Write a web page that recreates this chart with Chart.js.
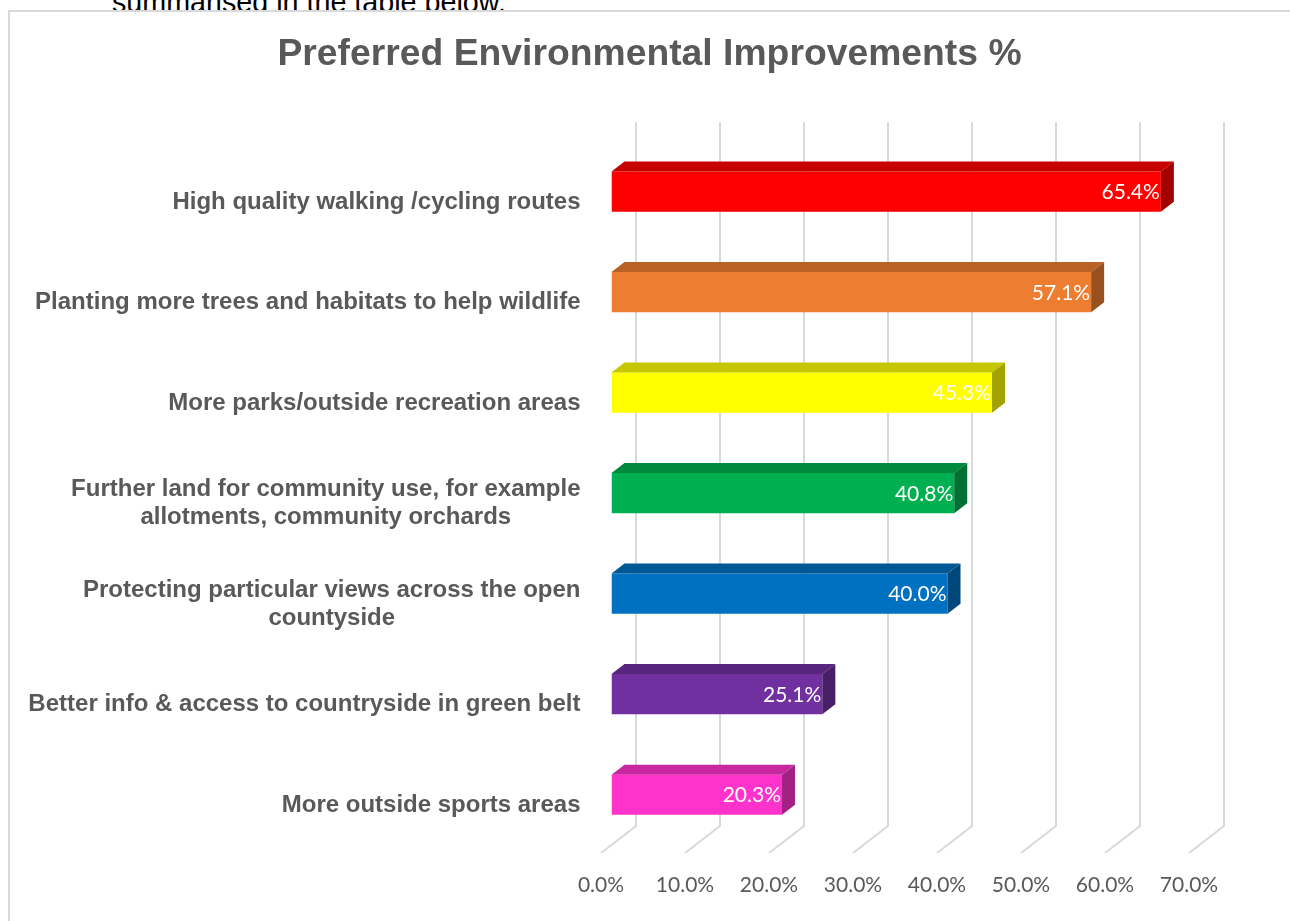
<!DOCTYPE html>
<html>
<head>
<meta charset="utf-8">
<script src="https://cdn.jsdelivr.net/npm/chart.js@4.4.1/dist/chart.umd.min.js"></script>
<style>
  html, body { margin: 0; padding: 0; background: #fff; overflow: hidden; }
  body { width: 1290px; height: 921px; position: relative; }
  #above {
    position: absolute; left: 112px; top: -12px;
    font: 28.7px "Liberation Sans", Arial, sans-serif; line-height: 1; color: #000;
    white-space: nowrap;
  }
  #frame {
    position: absolute; left: 8px; top: 10px; width: 1300px; height: 930px;
    border: 2px solid #d9d9d9; box-sizing: border-box; background: #fff;
  }
  #wrap { position: absolute; left: 8px; top: 10px; width: 1283px; height: 911px; }
</style>
</head>
<body>
<div id="above">summarised in the table below.</div>
<div id="frame"></div>
<div id="wrap"><canvas id="envChart"></canvas></div>
<script>
const categories = [
  ['High quality walking /cycling routes'],
  ['Planting more trees and habitats to help wildlife'],
  ['More parks/outside recreation areas'],
  ['Further land for community use, for example', 'allotments, community orchards'],
  ['Protecting particular views across the open', 'countyside'],
  ['Better info & access to countryside in green belt'],
  ['More outside sports areas'],
];
const values = [65.4, 57.1, 45.3, 40.8, 40.0, 25.1, 20.3];
const barColors = ['#FF0000', '#ED7D31', '#FFFF00', '#00B050', '#0070C0', '#7030A0', '#FF33CC'];
const axisMin = 0;
const axisMax = 70;
const axisStep = 10;

// depth of the 3D look
const barDX = 13, barDY = 10;
const wallDX = 24.5, wallDY = 19;
const floorDX = 10.5, floorDY = 8;
const numFont = 'Lato, "Open Sans", sans-serif';

function shade(hex, f) {
  const n = parseInt(hex.slice(1), 16);
  const r = Math.round(((n >> 16) & 255) * f);
  const g = Math.round(((n >> 8) & 255) * f);
  const b = Math.round((n & 255) * f);
  return `rgb(${r},${g},${b})`;
}

const threeD = {
  id: 'threeD',
  beforeDatasetsDraw(chart) {
    const { ctx, chartArea: a, scales: { x, y } } = chart;
    ctx.save();
    ctx.strokeStyle = '#d9d9d9';
    ctx.lineWidth = 2;
    x.ticks.forEach(t => {
      const px = x.getPixelForValue(t.value);
      ctx.beginPath();
      ctx.moveTo(px + wallDX, a.top - wallDY);
      ctx.lineTo(px + wallDX, a.bottom - wallDY);
      ctx.lineTo(px - floorDX, a.bottom + floorDY);
      ctx.stroke();
    });
    // category labels: right aligned block, lines centred within it
    ctx.font = 'bold 24px "Liberation Sans", Arial, sans-serif';
    ctx.fillStyle = '#595959';
    ctx.textAlign = 'center';
    ctx.textBaseline = 'middle';
    const right = a.left - 31;
    const lh = 28;
    categories.forEach((lines, i) => {
      const w = Math.max(...lines.map(l => ctx.measureText(l).width));
      const cx = right - w / 2;
      const cy = y.getPixelForTick(i) + floorDY + 2.5;
      lines.forEach((l, k) => {
        ctx.fillText(l, cx, cy + (k - (lines.length - 1) / 2) * lh);
      });
    });
    ctx.restore();
  },
  afterDatasetsDraw(chart) {
    const { ctx } = chart;
    const meta = chart.getDatasetMeta(0);
    ctx.save();
    meta.data.forEach((bar, i) => {
      const { x: xe, y, base, height } = bar.getProps(['x', 'y', 'base', 'height'], true);
      const top = y - height / 2, bot = y + height / 2;
      const c = barColors[i];
      ctx.fillStyle = shade(c, 0.78);
      ctx.beginPath();
      ctx.moveTo(base, top);
      ctx.lineTo(xe, top);
      ctx.lineTo(xe + barDX, top - barDY);
      ctx.lineTo(base + barDX, top - barDY);
      ctx.closePath();
      ctx.fill();
      ctx.fillStyle = shade(c, 0.64);
      ctx.beginPath();
      ctx.moveTo(xe, top);
      ctx.lineTo(xe + barDX, top - barDY);
      ctx.lineTo(xe + barDX, bot - barDY);
      ctx.lineTo(xe, bot);
      ctx.closePath();
      ctx.fill();
      ctx.font = '21px ' + numFont;
      ctx.fillStyle = '#ffffff';
      ctx.textAlign = 'right';
      ctx.textBaseline = 'middle';
      ctx.fillText(values[i].toFixed(1) + '%', xe - 1, y + 1);
    });
    ctx.restore();
  }
};

const ctx = document.getElementById('envChart').getContext('2d');
new Chart(ctx, {
  type: 'bar',
  data: {
    labels: categories,
    datasets: [
      {
        data: values,
        backgroundColor: barColors,
        borderWidth: 0,
        categoryPercentage: 1,
        barPercentage: 0.4,
      },
    ],
  },
  options: {
    indexAxis: 'y',
    responsive: true,
    maintainAspectRatio: false,
    animation: false,
    layout: {
      padding: 0,
    },
    plugins: {
      legend: { display: false },
      tooltip: { enabled: false },
      title: {
        display: true,
        text: 'Preferred Environmental Improvements %',
        color: '#595959',
        font: { family: '"Liberation Sans", Arial, sans-serif', size: 37.3, weight: 'bold', lineHeight: 1.2 },
        padding: { top: 22.5, bottom: 64 },
      },
    },
    scales: {
      x: {
        min: axisMin,
        max: axisMax,
        grid: { display: false },
        border: { display: false },
        ticks: {
          stepSize: axisStep,
          color: '#595959',
          font: { family: numFont, size: 21 },
          padding: 20,
          labelOffset: -floorDX,
          callback: v => v.toFixed(1) + '%',
        },
        afterFit: s => { s.height = 76; },
      },
      y: {
        grid: { display: false },
        border: { display: false },
        ticks: { display: false },
        afterFit: s => { s.width = 603.5; },
      },
      // empty right-hand strip so the title stays centred on the whole box
      yRight: {
        type: 'category',
        position: 'right',
        grid: { display: false },
        border: { display: false },
        ticks: { display: false },
        afterFit: s => { s.width = 91.5; },
      },
    },
  },
  plugins: [threeD],
});
</script>
</body>
</html>
